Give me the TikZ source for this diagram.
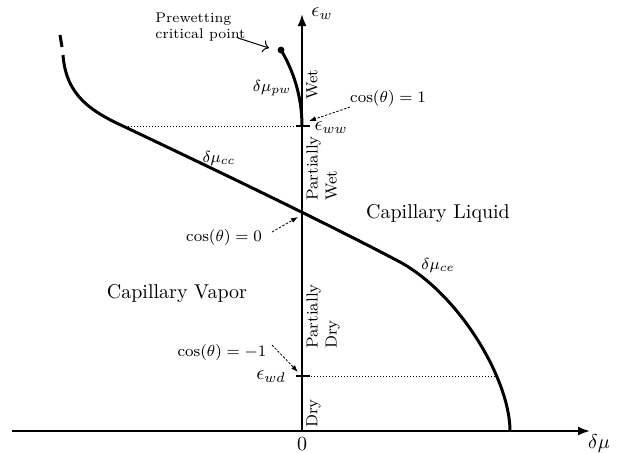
\documentclass[tikz,border=0pt]{standalone}
\usetikzlibrary{arrows.meta}
\begin{document}
\begin{tikzpicture}[x=0.5pt,y=-0.5pt,
  axis/.style={line width=1pt,-{Latex[length=6pt,width=4.5pt]}},
  curve/.style={line width=1.5pt},
  tickmark/.style={line width=0.9pt},
  guide/.style={densely dotted,line width=0.5pt},
  callout/.style={dash pattern=on 1.2pt off 0.8pt,line width=0.4pt,-{Latex[length=3.5pt,width=2.5pt]}},
  pointer/.style={line width=0.5pt,-{To[length=3pt]}},
  vlabel/.style={rotate=90,font=\footnotesize,align=left,anchor=north west,inner sep=0pt},
  lbl/.style={inner sep=0pt}]
\useasboundingbox (0,0) rectangle (620,452);
% axes
\coordinate (O) at (302,431);
\coordinate (xend) at (590,431);
\coordinate (xstart) at (12,431);
\coordinate (yend) at (302,14);
\draw[axis] (xstart) -- (xend);
\draw[axis] (O) -- (yend);
\node[lbl] (ew) at (322,14) {$\epsilon_w$};
\node[lbl] (dmu) at (599,443) {$\delta\mu$};
\node[lbl] (zero) at (302,444) {$0$};
% ticks
\coordinate (ww) at (302,126);
\coordinate (wd) at (302,376);
\draw[tickmark] (296,126) -- (310,126);
\draw[tickmark] (296,376) -- (310,376);
\node[lbl] (eww) at (331,128) {$\epsilon_{ww}$};
\node[lbl] (ewd) at (271,377) {$\epsilon_{wd}$};
% guide lines
\coordinate (gl) at (125,126);
\coordinate (gr) at (497,376);
\draw[guide] (gl) -- (ww);
\draw[guide] (wd) -- (gr);
% main coexistence curve
\draw[curve] (60,35) -- (62,47);
\draw[curve] (63,55) .. controls (66,95) and (90,111) .. (125,127)
  .. controls (220,172) and (330,225) .. (400,262)
  .. controls (460,295) and (510,380) .. (510,431);
% prewetting line
\coordinate (pcp) at (281,50);
\draw[curve] (ww) .. controls (302,96) and (293,70) .. (pcp);
\fill (pcp) circle[radius=1.7pt];
% curve labels
\node[lbl,font=\footnotesize] (mupw) at (272,88) {$\delta\mu_{pw}$};
\node[lbl,font=\footnotesize] (mucc) at (219,158) {$\delta\mu_{cc}$};
\node[lbl,font=\footnotesize] (muce) at (438,265) {$\delta\mu_{ce}$};
% prewetting critical point label
\node[lbl,font=\scriptsize,align=left,anchor=west] (pwlab) at (155,27) {Prewetting\\critical point};
\coordinate (pws) at (238,38);
\coordinate (pwe) at (269,48);
\draw[pointer] (pws) -- (pwe);
% region labels
\node[lbl] (cliq) at (438,213) {Capillary Liquid};
\node[lbl] (cvap) at (177,293) {Capillary Vapor};
\node[vlabel] (wet) at (306,100) {Wet};
\node[vlabel] (pwet) at (306,201) {Partially\\Wet};
\node[vlabel] (pdry) at (306,349) {Partially\\Dry};
\node[vlabel] (dry) at (306,428) {Dry};
% contact angle callouts
\node[lbl,font=\footnotesize] (cos1) at (388,98) {$\cos(\theta)=1$};
\node[lbl,font=\footnotesize] (cos0) at (224,237) {$\cos(\theta)=0$};
\node[lbl,font=\footnotesize] (cosm) at (222,352) {$\cos(\theta)=-1$};
\coordinate (c1s) at (350,107);
\coordinate (c1e) at (309,121);
\coordinate (c0s) at (272,232);
\coordinate (c0e) at (298,217);
\coordinate (cms) at (272,345);
\coordinate (cme) at (298,372);
\draw[callout] (c1s) -- (c1e);
\draw[callout] (c0s) -- (c0e);
\draw[callout] (cms) -- (cme);
\end{tikzpicture}
\end{document}
